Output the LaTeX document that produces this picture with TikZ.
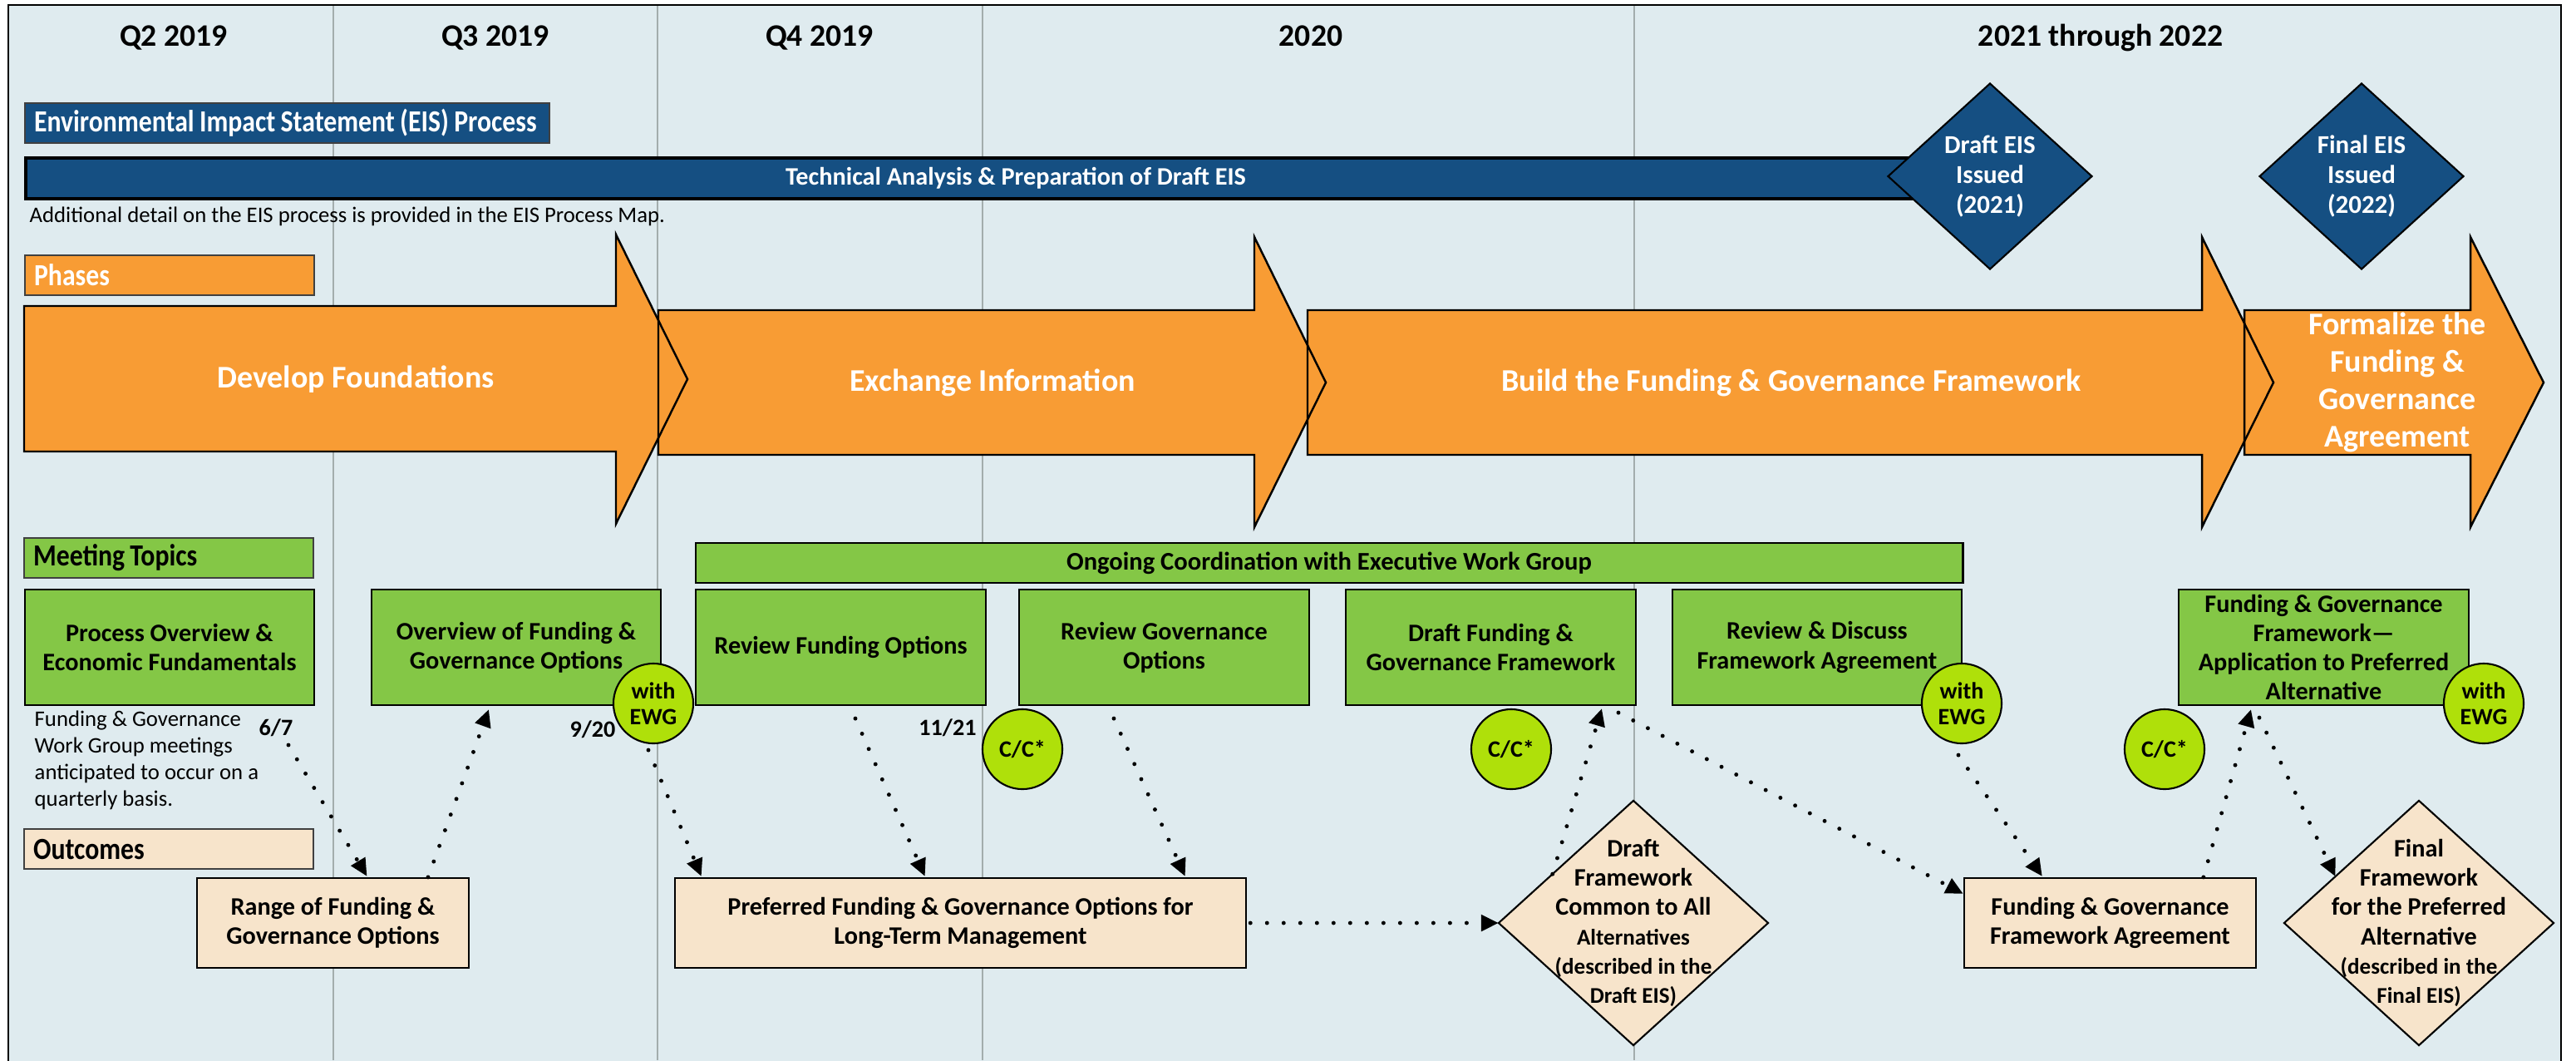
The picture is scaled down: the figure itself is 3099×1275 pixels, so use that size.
\documentclass[tikz,border=0pt]{standalone}
\usepackage{fontspec}
\setmainfont{Carlito}
\newfontfamily\condfont[FakeStretch=0.86]{Carlito}
\usetikzlibrary{arrows.meta,shapes.geometric,calc}
\definecolor{bgc}{HTML}{DFEBEF}
\definecolor{eisblue}{HTML}{154F82}
\definecolor{orangeph}{HTML}{F89C34}
\definecolor{mgreen}{HTML}{84C746}
\definecolor{ygreen}{HTML}{AFE00A}
\definecolor{peach}{HTML}{F7E4CB}
\definecolor{gridc}{HTML}{A3ADAD}
\newcommand\dfA{\fontsize{8.6}{10}\selectfont}
\newcommand\dfB{\fontsize{7.7}{9.6}\selectfont}
\newcommand\lbltxt[1]{{\spaceskip=0.17em plus 0.04em\relax #1}}
\tikzset{
  hdr/.style={font=\bfseries\fontsize{10.7}{12}\selectfont, inner sep=0pt},
  lbl/.style={draw=black!75, line width=0.6pt, minimum height=0.48cm, text width=3.26cm,
     inner xsep=0.11cm, inner ysep=0pt, align=left, anchor=north west,
     font=\condfont\bfseries\fontsize{10.5}{12}\selectfont},
  mbox/.style={draw, line width=0.6pt, fill=mgreen, minimum width=3.48cm, minimum height=1.39cm,
     align=center, inner sep=0pt, font=\bfseries\fontsize{8.6}{10}\selectfont},
  obox/.style={draw, line width=0.6pt, fill=peach, minimum height=1.08cm, align=center,
     inner sep=0pt, font=\bfseries\fontsize{8.6}{10}\selectfont},
  bub/.style={circle, draw, line width=0.6pt, fill=ygreen, minimum size=0.96cm, inner sep=0pt,
     align=center, font=\bfseries\fontsize{8}{8.8}\selectfont},
  dlab/.style={font=\bfseries\fontsize{8}{9}\selectfont, inner sep=0pt},
  conn/.style={line width=1.4pt, line cap=round, dash pattern=on 0pt off 0.2cm,
     -{Triangle[length=0.21cm,width=0.19cm]}},
  phasefill/.style={fill=orangeph},
  phaseline/.style={draw=black, line width=0.7pt, line join=miter},
  phtxt/.style={text=white, font=\bfseries\fontsize{10.8}{12.8}\selectfont, align=center, inner sep=0pt},
  eisd/.style={diamond, draw, line width=0.6pt, fill=eisblue, inner sep=0pt, outer sep=0pt,
     minimum width=2.45cm, minimum height=2.23cm},
  eistxt/.style={text=white, align=center, inner sep=0pt, font=\bfseries\fontsize{8.8}{10.2}\selectfont},
  odia/.style={diamond, draw, line width=0.6pt, fill=peach, inner sep=0pt, outer sep=0pt,
     minimum width=3.24cm, minimum height=2.94cm},
  odtxt/.style={align=center, inner sep=0pt, font=\bfseries\fontsize{8.6}{10}\selectfont}
}
\begin{document}
\begin{tikzpicture}[x=0.01cm,y=-0.01cm]
\useasboundingbox (0,0) rectangle (3099,1275);
\fill[white] (0,0) rectangle (3099,1275);
\draw[fill=bgc, line width=0.8pt] (10,6) rectangle (3081,1300);
\foreach \gx in {401,791,1182,1966} \draw[gridc, line width=0.45pt] (\gx,7) -- (\gx,1275);

% headers
\node[hdr, anchor=base] (hq2) at (209,55) {Q2 2019};
\node[hdr, anchor=base] (hq3) at (596,55) {Q3 2019};
\node[hdr, anchor=base] (hq4) at (986,55) {Q4 2019};
\node[hdr, anchor=base] (h20) at (1577,55) {2020};
\node[hdr, anchor=base] (h21) at (2527,55) {2021 through 2022};

% EIS process
\node[lbl, fill=eisblue, text=white, text width=6.09cm] (eislab) at (29,123) {\lbltxt{Environmental Impact Statement (EIS) Process}};
\node[draw, line width=1pt, fill=eisblue, minimum width=22.9cm, minimum height=0.49cm,
      anchor=north west, inner sep=0pt] (tbar) at (29,188) {};
\node[text=white, inner sep=0pt, anchor=base, font=\bfseries\fontsize{8.6}{10}\selectfont] (tbartxt) at (1222,222) {Technical Analysis \& Preparation of Draft EIS};
\node[eisd] (deis) at (2394,212) {};
\node[eistxt] (deist) at (deis) {Draft EIS\\Issued\\(2021)};
\node[eisd] (feis) at (2841,212) {};
\node[eistxt] (feist) at (feis) {Final EIS\\Issued\\(2022)};
\node[anchor=base west, inner sep=0pt, font=\fontsize{7.6}{9}\selectfont] (addnote) at (35,267) {Additional detail on the EIS process is provided in the EIS Process Map.};

% phases
\node[lbl, fill=orangeph, text=white] (phlab) at (29,306) {Phases};
\path[phasefill] (29,368) -- (741,368) -- (741,282) -- (827,456) -- (741,630) -- (741,543) -- (29,543) -- cycle;
\path[phasefill] (792,373) -- (1509,373) -- (1509,285) -- (1595,460) -- (1509,634) -- (1509,547) -- (792,547) -- cycle;
\path[phasefill] (1573,373) -- (2649,373) -- (2649,285) -- (2735,460) -- (2649,634) -- (2649,547) -- (1573,547) -- cycle;
\path[phasefill] (2700,373) -- (2972,373) -- (2972,285) -- (3060,460) -- (2972,634) -- (2972,547) -- (2700,547) -- cycle;
\path[phaseline] (29,368) -- (741,368) -- (741,282) -- (827,456) -- (741,630) -- (741,543) -- (29,543) -- cycle;
\path[phaseline] (792,373) -- (1509,373) -- (1509,285) -- (1595,460) -- (1509,634) -- (1509,547) -- (792,547) -- cycle;
\path[phaseline] (1573,373) -- (2649,373) -- (2649,285) -- (2735,460) -- (2649,634) -- (2649,547) -- (1573,547) -- cycle;
\path[phaseline] (2700,373) -- (2972,373) -- (2972,285) -- (3060,460) -- (2972,634) -- (2972,547) -- (2700,547) -- cycle;
\node[phtxt] (ph1) at (428,456) {Develop Foundations};
\node[phtxt] (ph2) at (1194,460) {Exchange Information};
\node[phtxt] (ph3) at (2155,460) {Build the Funding \& Governance Framework};
\node[phtxt] (ph4) at (2884,460) {Formalize the\\Funding \&\\Governance\\Agreement};

% meeting topics
\node[lbl, fill=mgreen] (mtlab) at (28,646) {\lbltxt{Meeting Topics}};
\node[draw, line width=0.6pt, fill=mgreen, minimum width=15.24cm, minimum height=0.48cm, inner sep=0pt,
      font=\bfseries\fontsize{8.7}{10}\selectfont] (ongoing) at (1599,677) {Ongoing Coordination with Executive Work Group};
\node[mbox] (ma) at (204,778.5) {Process Overview \&\\Economic Fundamentals};
\node[mbox] (mb) at (621,778.5) {Overview of Funding \&\\Governance Options};
\node[mbox] (rfo) at (1011.5,778.5) {Review Funding Options};
\node[mbox] (rgo) at (1400.5,778.5) {Review Governance\\Options};
\node[mbox] (dfg) at (1793.5,778.5) {Draft Funding \&\\Governance Framework};
\node[mbox] (rdf) at (2186,778.5) {Review \& Discuss\\Framework Agreement};
\node[mbox] (app) at (2795.5,778.5) {Funding \& Governance\\Framework---\\Application to Preferred\\Alternative};

\node[anchor=west, align=left, inner sep=0pt, font=\fontsize{7.6}{9.1}\selectfont] (fgnote) at (41,914)
  {Funding \& Governance\\Work Group meetings\\anticipated to occur on a\\quarterly basis.};

\node[bub] (ewg1) at (786,846) {with\\EWG};
\node[bub] (ewg2) at (2360,846) {with\\EWG};
\node[bub] (ewg3) at (2988,846) {with\\EWG};
\node[bub] (cc1) at (1230,901) {C/C*};
\node[bub] (cc2) at (1818,901) {C/C*};
\node[bub] (cc3) at (2604,901) {C/C*};

\node[dlab] (d67) at (332,875) {6/7};
\node[dlab] (d920) at (713,877) {9/20};
\node[dlab] (d1121) at (1140,875) {11/21};

% outcomes
\node[lbl, fill=peach] (outlab) at (28,996) {Outcomes};
\node[obox, minimum width=3.27cm] (range) at (400.5,1110) {Range of Funding \&\\Governance Options};
\node[obox, minimum width=6.87cm] (pref) at (1155.5,1110) {Preferred Funding \& Governance Options for\\Long-Term Management};
\node[obox, minimum width=3.51cm] (fga) at (2538.5,1110) {Funding \& Governance\\Framework Agreement};
\node[odia] (dfw) at (1965,1110) {};
\node[odtxt] (dfwt) at (dfw) {\dfA Draft\\\dfA Framework\\\dfA Common to All\\\dfB Alternatives\\\dfB (described in the\\\dfB Draft EIS)};
\node[odia] (ffw) at (2910,1110) {};
\node[odtxt] (ffwt) at (ffw) {\dfA Final\\\dfA Framework\\\dfA for the Preferred\\\dfA Alternative\\\dfB (described in the\\\dfB Final EIS)};

% connectors
\draw[conn] ($(d67.center)+(15,21)$) -- ($(range.north)+(41,-1)$);
\draw[conn] ($(range.north)+(114.5,0)$) -- ($(mb.south)+(-33,4)$);
\draw[conn] ($(ewg1.south)+(-6,7)$) -- ($(pref.north west)+(33,-1)$);
\draw[conn] ($(rfo.south)+(17.5,15)$) -- ($(pref.north west)+(302,-1)$);
\draw[conn] ($(rgo.south)+(-60.5,15)$) -- ($(pref.north west)+(615,-1)$);
\draw[conn] ($(pref.east)+(4,0)$) -- (dfw.west);
\draw[conn] ($(dfw.west)!0.4!(dfw.north)$) -- ($(dfg.south)+(133.5,3)$);
\draw[conn] ($(dfg.south)+(153.5,8)$) -- ($(fga.north west)+(0,20)$);
\draw[conn] ($(ewg2.south)+(-4,13)$) -- ($(fga.north west)+(95,-1)$);
\draw[conn] ($(fga.north west)+(289,0)$) -- ($(app.south)+(-87.5,4)$);
\draw[conn] ($(app.south)+(-77.5,14)$) -- ($(ffw.west)!0.38!(ffw.north)$);
\end{tikzpicture}
\end{document}
